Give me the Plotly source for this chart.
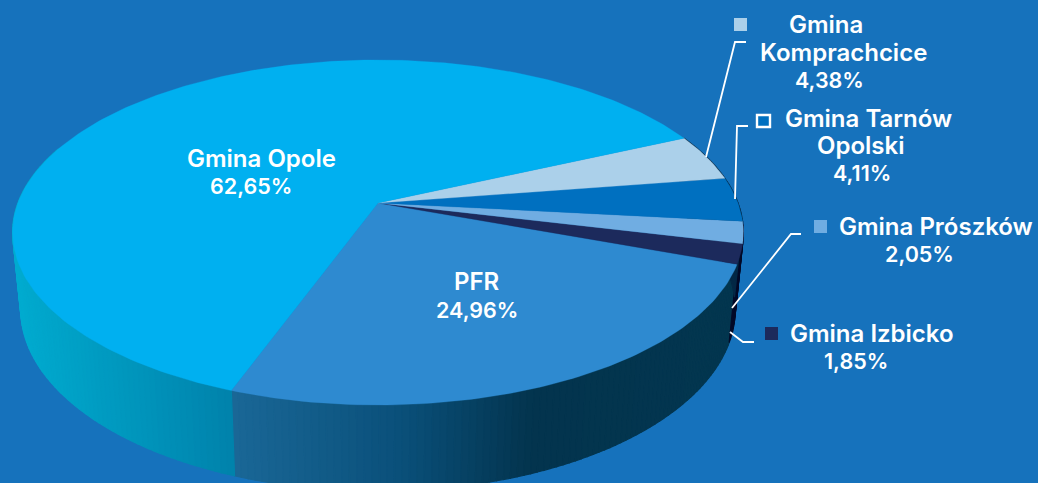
import math
import plotly.graph_objects as go

# ---- data -------------------------------------------------------------
categories = ["PFR", "Gmina Izbicko", "Gmina Prószków", "Gmina Tarnów Opolski",
              "Gmina Komprachcice", "Gmina Opole"]
values = [24.96, 1.85, 2.05, 4.11, 4.38, 62.65]
top_colors = ["#2E8AD0", "#1C2A5C", "#70ADE2", "#0070C0", "#ABD0EA", "#00B0F0"]
value_labels = ["24,96%", "1,85%", "2,05%", "4,11%", "4,38%", "62,65%"]

# ---- style / layout ---------------------------------------------------
W, H = 1038, 483
BG = "#1672BC"
START_DEG = 110.0      # screen angle where PFR starts, going anticlockwise
TOP = dict(x0=378, y0=203, A=360, B=167.5, p=0.171)
BOT = dict(x0=378, y0=278, A=352, B=176.7, p=0.171)


def project(deg, g):
    u, v = math.cos(math.radians(deg)), math.sin(math.radians(deg))
    w = 1 - g["p"] * v
    return g["x0"] + g["A"] * u / w, g["y0"] + g["B"] * v / w


def lerp_color(stops, x):
    if x <= stops[0][0]:
        c = stops[0][1]
    elif x >= stops[-1][0]:
        c = stops[-1][1]
    else:
        for (x1, c1), (x2, c2) in zip(stops, stops[1:]):
            if x1 <= x <= x2:
                t = (x - x1) / (x2 - x1)
                c = tuple(a + (b - a) * t for a, b in zip(c1, c2))
                break
    return "rgb(%d,%d,%d)" % tuple(round(k) for k in c)


wall_stops = {
    "PFR": [(235, (26, 103, 151)), (400, (10, 80, 122)), (530, (3, 52, 78)), (735, (3, 54, 79))],
    "Gmina Izbicko": [(0, (3, 10, 40)), (1038, (3, 10, 40))],
    "Gmina Prószków": [(0, (3, 10, 40)), (1038, (3, 10, 40))],
    "Gmina Tarnów Opolski": [(0, (3, 40, 70)), (1038, (3, 40, 70))],
    "Gmina Komprachcice": [(0, (3, 40, 70)), (1038, (3, 40, 70))],
    "Gmina Opole": [(20, (0, 172, 208)), (232, (0, 131, 172))],
}

fig = go.Figure()


def poly(xs, ys, color, line=0.6):
    fig.add_trace(go.Scatter(x=xs, y=ys, mode="lines", fill="toself", fillcolor=color,
                             line=dict(color=color, width=line), hoverinfo="skip",
                             showlegend=False))


# slice angle ranges from the values
spans = []
a = START_DEG
for name, val in zip(categories, values):
    b = a - val * 3.6
    spans.append((name, a, b))
    a = b

# ---- wall (only the part in front is ever visible) ---------------------
STEP = 1.0
for name, a0, a1 in spans:
    if name == "Gmina Opole":
        # Opole wraps from the back round to the left; only 110..200 deg shows
        a0, a1 = 200.0, 110.0
    n = max(1, int(abs(a0 - a1) / STEP))
    for i in range(n):
        s = a0 + (a1 - a0) * i / n
        e = a0 + (a1 - a0) * (i + 1) / n
        p = [project(s, TOP), project(e, TOP), project(e, BOT), project(s, BOT)]
        xs = [q[0] for q in p] + [p[0][0]]
        ys = [q[1] for q in p] + [p[0][1]]
        poly(xs, ys, lerp_color(wall_stops[name], (p[2][0] + p[3][0]) / 2), line=1.2)

# ---- top face -----------------------------------------------------------
for (name, a0, a1), col in zip(spans, top_colors):
    n = max(2, int(abs(a0 - a1) / 1.0))
    pts = [project(a0 + (a1 - a0) * i / n, TOP) for i in range(n + 1)]
    xs = [TOP["x0"]] + [q[0] for q in pts] + [TOP["x0"]]
    ys = [TOP["y0"]] + [q[1] for q in pts] + [TOP["y0"]]
    poly(xs, ys, col, line=0.3)

# ---- leader lines -------------------------------------------------------
leaders = [
    ([706, 735, 746], [157, 42, 42]),
    ([735, 737, 748], [199, 126, 126]),
    ([732, 791, 801], [308, 234, 234]),
    ([730, 743, 754], [332, 342, 342]),
]
for lx, ly in leaders:
    fig.add_trace(go.Scatter(x=lx, y=ly, mode="lines", line=dict(color="white", width=1.8),
                             hoverinfo="skip", showlegend=False))

# ---- legend squares -----------------------------------------------------
squares = [
    (734, 18, 747, 31, "#ABD0EA", None),
    (757, 115, 770, 127, "#0070C0", "white"),
    (814, 220, 827, 233, "#70ADE2", None),
    (765, 327, 778, 340, "#1C2A5C", None),
]
shapes = []
for x0, y0, x1, y1, fc, lc in squares:
    shapes.append(dict(type="rect", x0=x0, y0=y0, x1=x1, y1=y1, fillcolor=fc,
                       line=dict(color=lc or fc, width=2.4 if lc else 0)))

# ---- texts --------------------------------------------------------------
NAME_FONT = dict(family="Inter", size=24, color="white", weight=600)
PCT_FONT = dict(family="Inter", size=21.5, color="white", weight=600)
texts = [
    ("Gmina", 826, 24), ("Komprachcice", 843, 52), (value_labels[4], 829, 80),
    ("Gmina Tarnów", 868, 118), ("Opolski", 860, 145), (value_labels[3], 862, 173),
    ("Gmina Prószków", 936, 226), (value_labels[2], 919, 254),
    ("Gmina Izbicko", 872, 333), (value_labels[1], 856, 361),
    ("Gmina Opole", 261, 158), (value_labels[5], 251, 186),
    ("PFR", 477, 281), (value_labels[0], 477, 310),
]
annotations = [dict(x=x, y=y, text=t, showarrow=False, xanchor="center", yanchor="middle",
                    font=PCT_FONT if t.endswith("%") else NAME_FONT) for t, x, y in texts]

fig.update_layout(
    width=W, height=H, margin=dict(l=0, r=0, t=0, b=0),
    paper_bgcolor=BG, plot_bgcolor=BG, showlegend=False,
    shapes=shapes, annotations=annotations, hovermode=False,
    xaxis=dict(range=[0, W], visible=False, fixedrange=True),
    yaxis=dict(range=[H, 0], visible=False, fixedrange=True),
)
fig.write_html("out.html", config=dict(displayModeBar=False),
               post_script="document.body.style.margin='0';document.body.style.overflow='hidden';document.body.style.background='" + BG + "';")
